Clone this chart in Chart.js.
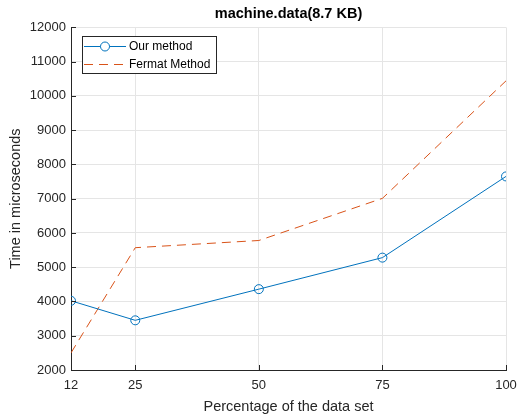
<!DOCTYPE html>
<html>
<head>
<meta charset="utf-8">
<script src="https://cdn.jsdelivr.net/npm/chart.js@4"></script>
<style>
  html, body { margin: 0; padding: 0; background: #fff; }
  #wrap { width: 518px; height: 417px; }
</style>
</head>
<body>
<div id="wrap"><canvas id="timeChart" width="518" height="417"></canvas></div>
<script>
// percentages of machine.data used for each run
const percentages = [12, 25, 50, 75, 100];
const ourMethod = [4020, 3450, 4360, 5280, 7650];
const fermatMethod = [2500, 5570, 5780, 7010, 10440];
const xTicks = [12, 25, 50, 75, 100];

const FONT = "'Liberation Sans', Arial, Helvetica, sans-serif";
const TEXT = '#262626';
const BLUE = '#0072BD';
const ORANGE = '#D95319';

// small inward tick marks + legend box in the upper left corner
const matlabLook = {
    id: 'matlabLook',
    afterDatasetsDraw(chart) {
        const { ctx, chartArea: a, scales: { x, y } } = chart;
        ctx.save();
        ctx.strokeStyle = TEXT;
        ctx.lineWidth = 1;
        ctx.beginPath();
        y.ticks.forEach(t => {
            const py = Math.round(y.getPixelForValue(t.value)) + 0.5;
            ctx.moveTo(a.left, py);
            ctx.lineTo(a.left + 5, py);
        });
        x.ticks.forEach(t => {
            const px = Math.round(x.getPixelForValue(t.value)) + 0.5;
            ctx.moveTo(px, a.bottom);
            ctx.lineTo(px, a.bottom - 5);
        });
        ctx.stroke();

        // legend
        const bx = 82.5, by = 36.5, bw = 134, bh = 37;
        ctx.fillStyle = '#fff';
        ctx.fillRect(bx, by, bw, bh);
        ctx.strokeStyle = TEXT;
        ctx.strokeRect(bx, by, bw, bh);
        ctx.font = '12px ' + FONT;
        ctx.textBaseline = 'middle';
        chart.data.datasets.forEach((ds, i) => {
            const ly = 46 + i * 18;
            ctx.strokeStyle = ds.borderColor;
            ctx.setLineDash(ds.borderDash || []);
            ctx.beginPath();
            ctx.moveTo(84, ly + 0.5);
            ctx.lineTo(126, ly + 0.5);
            ctx.stroke();
            ctx.setLineDash([]);
            if (ds.pointRadius > 0) {
                ctx.beginPath();
                ctx.arc(105, ly + 0.5, ds.pointRadius, 0, Math.PI * 2);
                ctx.fillStyle = '#fff';
                ctx.fill();
                ctx.stroke();
            }
            ctx.fillStyle = '#000';
            ctx.fillText(ds.label, 129, ly + 1);
        });
        ctx.restore();
    }
};

const ctx = document.getElementById('timeChart').getContext('2d');
const chart = new Chart(ctx, {
    type: 'line',
    data: {
        datasets: [{
            label: 'Our method',
            data: percentages.map((p, i) => ({ x: p, y: ourMethod[i] })),
            borderColor: BLUE,
            borderWidth: 1,
            pointRadius: 4.5,
            pointBorderWidth: 1,
            pointBorderColor: BLUE,
            pointBackgroundColor: 'rgba(0,0,0,0)',
            tension: 0
        }, {
            label: 'Fermat Method',
            data: percentages.map((p, i) => ({ x: p, y: fermatMethod[i] })),
            borderColor: ORANGE,
            borderWidth: 1,
            borderDash: [9, 6],
            pointRadius: 0,
            tension: 0
        }]
    },
    options: {
        responsive: false,
        animation: false,
        layout: { padding: { left: 0, right: 0, top: 0, bottom: 0 } },
        plugins: {
            legend: { display: false },
            tooltip: { enabled: false },
            title: {
                display: true,
                fullSize: false,
                text: 'machine.data(8.7 KB)',
                color: '#000',
                font: { family: FONT, size: 14.5, weight: 'bold' },
                padding: { top: 5, bottom: 5 }
            }
        },
        scales: {
            x: {
                type: 'linear',
                min: 12,
                max: 100,
                afterBuildTicks: scale => { scale.ticks = xTicks.map(v => ({ value: v })); },
                afterFit: scale => {
                    scale.height = 47;
                    scale.paddingLeft = 0;
                    scale.paddingRight = 12;
                },
                grid: { color: '#e5e5e5', drawTicks: false },
                border: { color: TEXT, width: 1 },
                ticks: { color: TEXT, padding: 8, font: { family: FONT, size: 13 } },
                title: {
                    display: true,
                    text: 'Percentage of the data set',
                    color: TEXT,
                    font: { family: FONT, size: 14.5 },
                    padding: { top: 4, bottom: 1 }
                }
            },
            y: {
                min: 2000,
                max: 12000,
                afterFit: scale => { scale.width = 71; },
                grid: { color: '#e5e5e5', drawTicks: false },
                border: { color: TEXT, width: 1 },
                ticks: {
                    stepSize: 1000,
                    color: TEXT,
                    padding: 5,
                    font: { family: FONT, size: 13 },
                    callback: v => String(v)
                },
                title: {
                    display: true,
                    text: 'Time in microseconds',
                    color: TEXT,
                    font: { family: FONT, size: 14.5 },
                    padding: { top: 7, bottom: 0 }
                }
            }
        }
    },
    plugins: [matlabLook]
});
</script>
</body>
</html>
